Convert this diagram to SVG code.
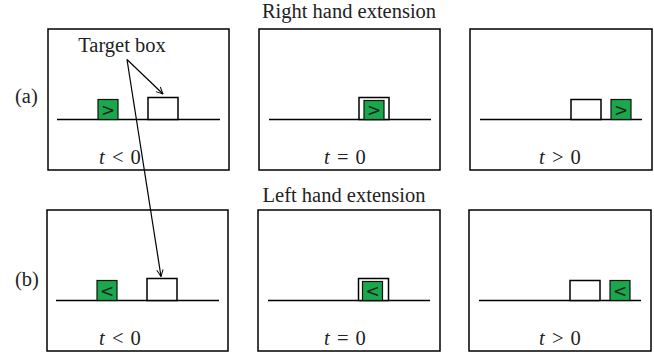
<svg xmlns="http://www.w3.org/2000/svg" width="654" height="353" viewBox="0 0 654 353">
<defs>
<style>
.panel{fill:#fff;stroke:#000;stroke-width:1.5}
.base{stroke:#000;stroke-width:1.5}
.tgt{fill:#fff;stroke:#000;stroke-width:1.5}
.grn{fill:#1aa84c;stroke:#111;stroke-width:1.2}
.t{font-family:"Liberation Serif",serif;font-size:20.5px;fill:#222}
.m{word-spacing:2px}
.g{font-family:"DejaVu Sans",sans-serif;font-size:17px;fill:#222;text-anchor:middle}
.c{stroke:#000;stroke-width:1.2;fill:none}
</style>
<marker id="ah" viewBox="0 0 10 10" refX="9.5" refY="5" markerWidth="8" markerHeight="8" markerUnits="userSpaceOnUse" orient="auto">
<path d="M1,1 L9.5,5 L1,9" fill="none" stroke="#000" stroke-width="1.2"/>
</marker>
</defs>
<rect width="654" height="353" fill="#fff"/>
<text class="t" x="349" y="18" text-anchor="middle">Right hand extension</text>
<text class="t" x="344" y="202" text-anchor="middle">Left hand extension</text>
<text class="t" x="15" y="103">(a)</text>
<text class="t" x="15" y="286">(b)</text>

<g id="a1">
<rect class="panel" x="48" y="29" width="181" height="141"/>
<line class="base" x1="57" y1="119.5" x2="220" y2="119.5"/>
<rect class="grn" x="98" y="99.5" width="20" height="20"/>
<text class="g" x="108" y="116">&gt;</text>
<rect class="tgt" x="148" y="97.5" width="30" height="22"/>
<text class="t m" x="120" y="164" text-anchor="middle"><tspan font-style="italic">t</tspan> &lt; 0</text>
</g>
<g id="a2">
<rect class="panel" x="259" y="29" width="181" height="141"/>
<line class="base" x1="269" y1="119.5" x2="431" y2="119.5"/>
<rect class="tgt" x="359" y="97.5" width="30" height="22"/>
<rect class="grn" x="364" y="100.5" width="20" height="19"/>
<text class="g" x="374" y="116">&gt;</text>
<text class="t m" x="345" y="164" text-anchor="middle"><tspan font-style="italic">t</tspan> = 0</text>
</g>
<g id="a3">
<rect class="panel" x="470" y="29" width="182" height="141"/>
<line class="base" x1="480" y1="119.5" x2="642" y2="119.5"/>
<rect class="tgt" x="571" y="99.5" width="30" height="20"/>
<rect class="grn" x="611" y="99.5" width="20" height="20"/>
<text class="g" x="621" y="116">&gt;</text>
<text class="t m" x="560" y="164" text-anchor="middle"><tspan font-style="italic">t</tspan> &gt; 0</text>
</g>

<g id="b1">
<rect class="panel" x="47" y="210" width="181" height="141"/>
<line class="base" x1="56" y1="300.5" x2="219" y2="300.5"/>
<rect class="grn" x="97" y="280.5" width="20" height="20"/>
<text class="g" x="107" y="297">&lt;</text>
<rect class="tgt" x="147" y="278.5" width="30" height="22"/>
<text class="t m" x="120" y="345" text-anchor="middle"><tspan font-style="italic">t</tspan> &lt; 0</text>
</g>
<g id="b2">
<rect class="panel" x="258" y="210" width="182" height="141"/>
<line class="base" x1="268" y1="300.5" x2="430" y2="300.5"/>
<rect class="tgt" x="358.5" y="278.5" width="30" height="22"/>
<rect class="grn" x="362.5" y="281.5" width="20" height="19"/>
<text class="g" x="372.5" y="297">&lt;</text>
<text class="t m" x="345" y="345" text-anchor="middle"><tspan font-style="italic">t</tspan> = 0</text>
</g>
<g id="b3">
<rect class="panel" x="469" y="210" width="182" height="141"/>
<line class="base" x1="479" y1="300.5" x2="641" y2="300.5"/>
<rect class="tgt" x="570" y="280.5" width="30" height="20"/>
<rect class="grn" x="610" y="280.5" width="20" height="20"/>
<text class="g" x="620" y="297">&lt;</text>
<text class="t m" x="560" y="345" text-anchor="middle"><tspan font-style="italic">t</tspan> &gt; 0</text>
</g>

<g id="label">
<text class="t" x="122" y="52" text-anchor="middle">Target box</text>
</g>
<g id="connectors">
<line class="c" x1="127" y1="59.5" x2="163" y2="94" marker-end="url(#ah)"/>
<line class="c" x1="127" y1="59.5" x2="161" y2="276.5" marker-end="url(#ah)"/>
</g>
</svg>
